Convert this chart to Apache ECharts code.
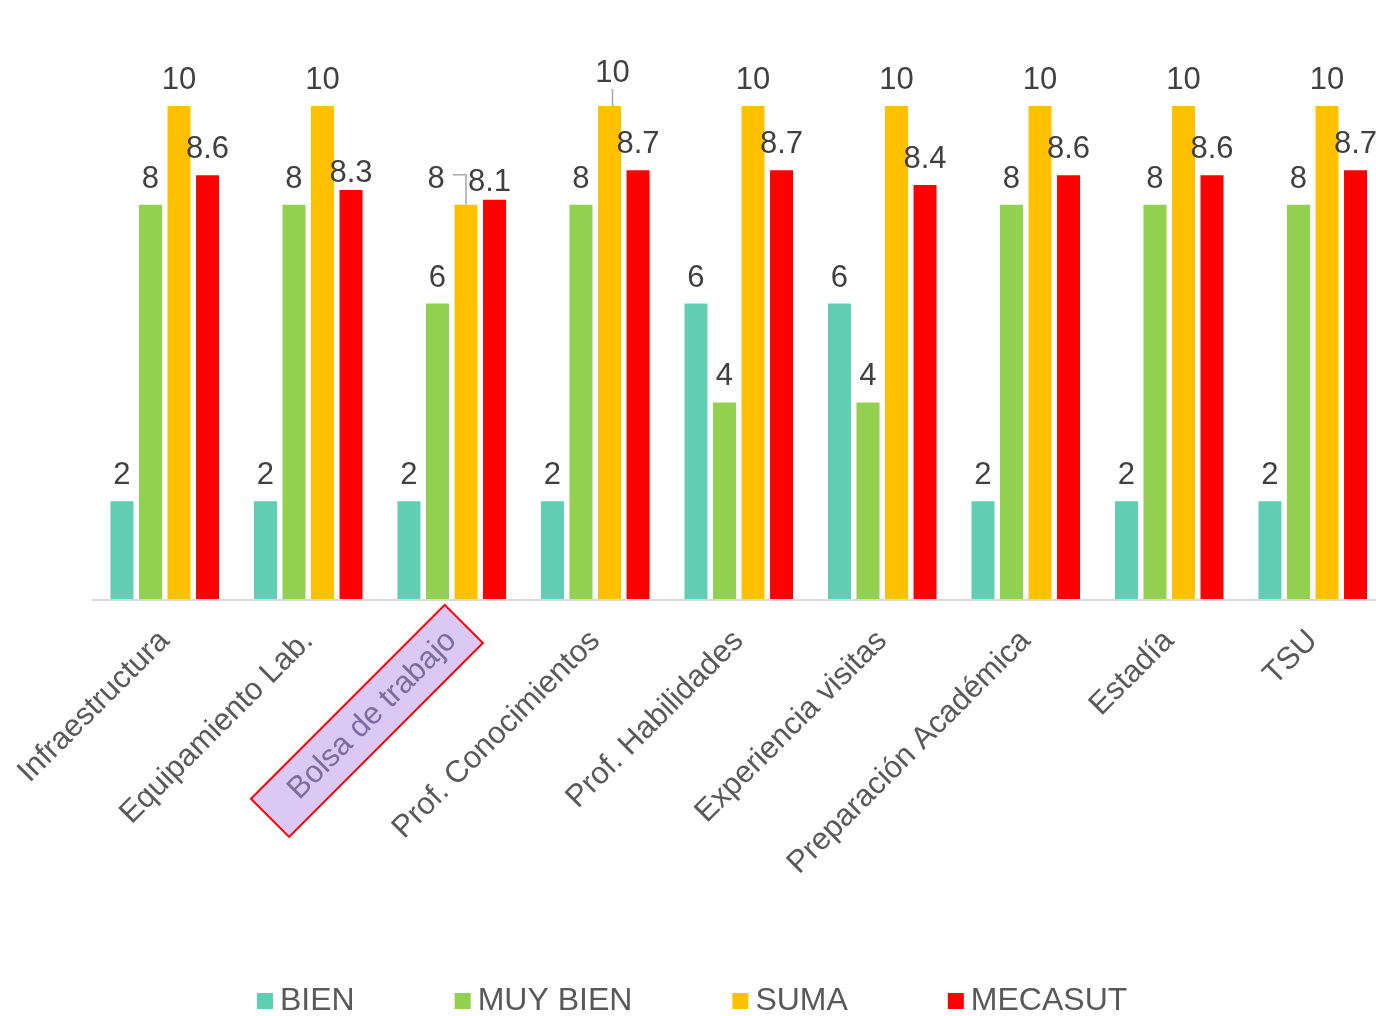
<!DOCTYPE html>
<html>
<head>
<meta charset="utf-8">
<script src="https://cdn.jsdelivr.net/npm/echarts@6/dist/echarts.min.js"></script>
<style>
html,body{margin:0;padding:0;background:#fff;}
#chart{width:1376px;height:1016px;}
</style>
</head>
<body>
<div id="chart"></div>
<script>
var categories = ['Infraestructura', 'Equipamiento Lab.', 'Bolsa de trabajo', 'Prof. Conocimientos', 'Prof. Habilidades', 'Experiencia visitas', 'Preparación Académica', 'Estadía', 'TSU'];
var bienValues = [2, 2, 2, 2, 6, 6, 2, 2, 2];
var muyBienValues = [8, 8, 6, 8, 4, 4, 8, 8, 8];
var sumaValues = [10, 10, 8, 10, 10, 10, 10, 10, 10];
var mecasutValues = [8.6, 8.3, 8.1, 8.7, 8.7, 8.4, 8.6, 8.6, 8.7];
var seriesNames = ['BIEN', 'MUY BIEN', 'SUMA', 'MECASUT'];
var highlightCategory = 'Bolsa de trabajo';

var FONT = '"Liberation Sans", Arial, sans-serif';
var colors = ['#5FCEB2', '#92D050', '#FFC000', '#FF0000'];
var AXIS_MARGIN = 36;

var labelStyle = {
  show: true,
  position: 'top',
  distance: 10,
  fontSize: 31,
  color: '#404040',
  fontFamily: FONT
};

function mkSeries(name, values, color, extra) {
  var s = {
    name: name,
    type: 'bar',
    data: values,
    barWidth: 23,
    barGap: '24%',
    itemStyle: { color: color },
    label: labelStyle
  };
  if (extra) { for (var k in extra) s[k] = extra[k]; }
  return s;
}

var sumaData = sumaValues.map(function (v, i) {
  if (i === 3) return { value: v, labelLine: { show: true } };
  return v;
});

var chart = echarts.init(document.getElementById('chart'));
chart.setOption({
  animation: false,
  color: colors,
  grid: { left: 93, top: 106, width: 1291.5, height: 494, containLabel: false, outerBoundsMode: 'none' },
  legend: {
    data: seriesNames,
    left: 252,
    top: 980,
    icon: 'rect',
    itemWidth: 16,
    itemHeight: 16,
    itemGap: 100,
    textStyle: { fontSize: 32, color: '#595959', fontFamily: FONT, padding: [0, 0, 0, 2] }
  },
  xAxis: {
    type: 'category',
    data: categories,
    z: 5,
    axisLine: { lineStyle: { color: '#D9D9D9', width: 2 } },
    axisTick: { show: false },
    axisLabel: {
      rotate: 45,
      interval: 0,
      margin: AXIS_MARGIN,
      fontSize: 31,
      color: '#595959',
      fontFamily: FONT,
      hideOverlap: false,
      formatter: function (v) {
        return v === highlightCategory ? '{hl|' + v + '}' : v;
      },
      rich: {
        hl: { fontSize: 31, fontFamily: FONT, color: '#7F6B9E' }
      }
    }
  },
  yAxis: { type: 'value', min: 0, max: 10, show: false, splitLine: { show: false } },
  series: [
    mkSeries(seriesNames[0], bienValues, colors[0]),
    mkSeries(seriesNames[1], muyBienValues, colors[1]),
    mkSeries(seriesNames[2], sumaData, colors[2], {
      labelLine: { show: false, lineStyle: { color: '#A6A6A6', width: 1.5 } },
      labelLayout: function (p) {
        if (p.dataIndex === 2) return { dx: -30 };
        if (p.dataIndex === 3) return { dx: 3, dy: -7 };
        return {};
      }
    }),
    mkSeries(seriesNames[3], mecasutValues, colors[3], {
      labelLayout: function (p) {
        if (p.dataIndex === 1) return { dy: 9 };
        if (p.dataIndex === 2) return { dx: -5, dy: 8 };
        return {};
      }
    })
  ]
});

// Decorations: highlight box behind the "Bolsa de trabajo" label and leader line of moved SUMA label
(function () {
  var hi = categories.indexOf(highlightCategory);
  var cx = chart.convertToPixel({ xAxisIndex: 0 }, hi);
  var y0 = chart.convertToPixel({ yAxisIndex: 0 }, 0);
  var ax = cx, ay = y0 + AXIS_MARGIN;
  var elements = [{
    type: 'rect',
    x: ax, y: ay,
    rotation: Math.PI / 4,
    z: 1,
    shape: { x: -257, y: -27, width: 274, height: 54 },
    style: { fill: '#DBC8F5', stroke: '#FF0000', lineWidth: 2 }
  }];
  try {
    var lay = chart.getModel().getSeriesByIndex(2).getData().getItemLayout(hi);
    var bx = lay.x + lay.width / 2;
    var top = Math.min(lay.y, lay.y + lay.height);
    elements.push({
      type: 'polyline',
      z: 1,
      shape: { points: [[bx - 13, top - 30], [bx, top - 30], [bx, top]] },
      style: { stroke: '#A6A6A6', lineWidth: 1.5, fill: null }
    });
  } catch (e) {}
  chart.setOption({ graphic: { elements: elements } });
})();
</script>
</body>
</html>
